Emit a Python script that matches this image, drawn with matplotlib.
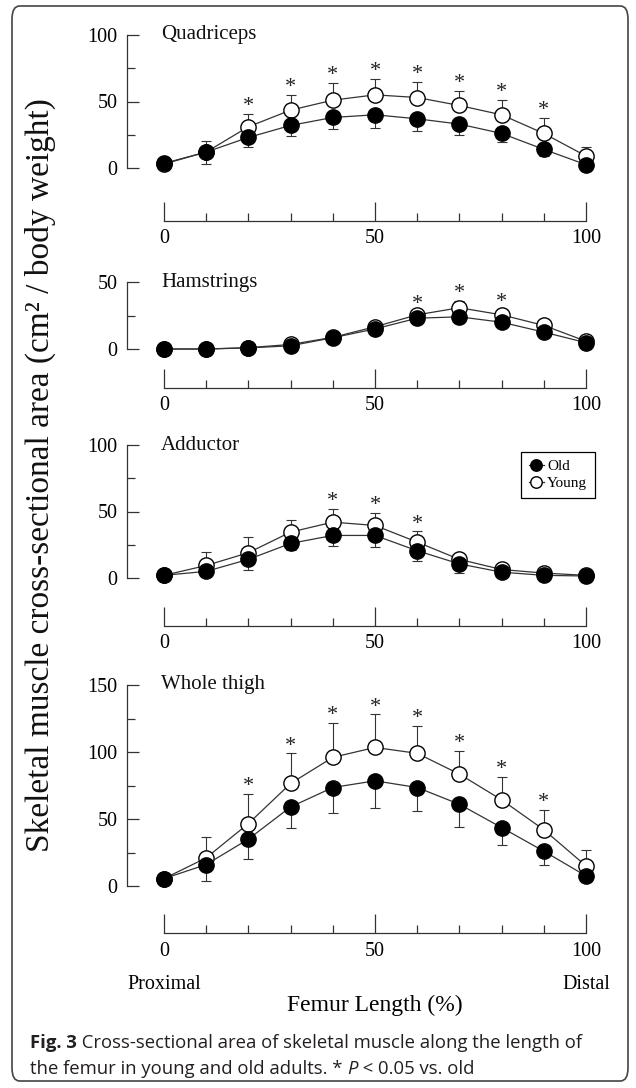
import numpy as np
import matplotlib
matplotlib.use("Agg")
from matplotlib import pyplot as plt
from matplotlib.patches import FancyBboxPatch

# Femur length positions (%)
femur_pos = [0, 10, 20, 30, 40, 50, 60, 70, 80, 90, 100]

# Quadriceps
quad_old = [3.5, 12, 23, 32, 38, 40, 37, 33, 26, 14, 2.5]
quad_old_sd = [1, 9, 7.5, 8, 9, 10, 9, 8.5, 6.5, 5, 1]
quad_young = [3, 12, 31, 43.5, 51, 55, 53, 47, 40, 26, 9]
quad_young_sd = [1, 8, 9.5, 11.5, 13, 12, 12, 11, 11, 11.5, 7]
quad_sig = [20, 30, 40, 50, 60, 70, 80, 90]

# Hamstrings
ham_old = [0, 0, 0.8, 2.4, 8.4, 15, 23, 24, 20, 12.6, 4.7]
ham_old_sd = [0.5, 0.5, 0.5, 1, 1.5, 2, 3, 3, 3, 2.5, 1.5]
ham_young = [0, 0, 1, 3.4, 8.7, 16.6, 25.5, 30.8, 25.5, 17.6, 5.8]
ham_young_sd = [0.5, 0.5, 0.5, 1.5, 1.5, 2, 2.5, 5, 3.5, 2.5, 2]
ham_sig = [60, 70, 80]

# Adductor
add_old = [2, 5, 14, 26, 32, 32, 20.5, 10.6, 4.4, 2, 1.5]
add_old_sd = [1, 3, 8.3, 5, 8.3, 9, 8, 7, 2, 1, 0.5]
add_young = [2, 9.4, 19, 34.5, 42, 39.5, 27, 14, 6.4, 3.7, 2]
add_young_sd = [1, 10.4, 12, 9, 10, 9.5, 8, 4, 2, 1.5, 0.5]
add_sig = [40, 50, 60]

# Whole thigh
whole_old = [5.5, 16, 35, 59, 73.5, 78.5, 73.5, 61, 43.6, 26, 7.5]
whole_old_sd = [1, 12.3, 14.6, 15.4, 19, 20, 17.5, 16.6, 13, 10.6, 2]
whole_young = [5.5, 21, 46.6, 76.5, 96, 103.4, 99, 83.5, 64.3, 42, 15]
whole_young_sd = [1, 15.6, 22, 22.5, 26, 24.7, 20.6, 17.5, 17.4, 15, 12]
whole_sig = [20, 30, 40, 50, 60, 70, 80, 90]

SERIF = ["Liberation Serif", "DejaVu Serif"]
plt.rcParams["font.family"] = SERIF
AX_COLOR = "#333333"

W, H = 636, 1088
fig = plt.figure(figsize=(W / 100, H / 100), dpi=100)


def px_box(top, bottom):
    # axes rectangle from pixel rows of y max / y zero
    return [164 / W, 1 - bottom / H, 422 / W, (bottom - top) / H]


def draw_panel(box, old, old_sd, young, young_sd, ymax, name, sig, outward):
    ax = fig.add_axes(box)
    ax.patch.set_alpha(0)
    n = len(femur_pos)
    # error bars: young up, old down
    ax.errorbar(femur_pos, young, yerr=[[0] * n, young_sd], fmt="none",
                ecolor=AX_COLOR, elinewidth=0.8, capsize=3.5, capthick=0.8,
                zorder=1, clip_on=False)
    ax.errorbar(femur_pos, old, yerr=[old_sd, [0] * n], fmt="none",
                ecolor=AX_COLOR, elinewidth=0.8, capsize=3.5, capthick=0.8,
                zorder=1, clip_on=False)
    ax.plot(femur_pos, young, "-o", color=AX_COLOR, lw=0.9, ms=11,
            mfc="white", mec="black", mew=1.0, zorder=2, clip_on=False,
            label="Young")
    ax.plot(femur_pos, old, "-o", color=AX_COLOR, lw=0.9, ms=11,
            mfc="black", mec="black", mew=1.0, zorder=3, clip_on=False,
            label="Old")
    for xs in sig:
        i = femur_pos.index(xs)
        ax.annotate("*", (xs, young[i] + young_sd[i]), xytext=(0, 2),
                    textcoords="offset points", ha="center", va="baseline",
                    fontsize=16, color="#222222", annotation_clip=False)

    ax.set_xlim(0, 100)
    ax.set_ylim(0, ymax)
    for s in ["top", "right"]:
        ax.spines[s].set_visible(False)
    ax.spines["left"].set_position(("outward", 26.6))
    ax.spines["bottom"].set_position(("outward", outward))
    for s in ["left", "bottom"]:
        ax.spines[s].set_color(AX_COLOR)
        ax.spines[s].set_linewidth(0.9)

    ax.set_yticks(np.arange(0, ymax + 1, 50))
    ax.set_yticks(np.arange(25, ymax, 50), minor=True)
    ax.set_xticks([0, 50, 100])
    ax.set_xticks([10, 20, 30, 40, 60, 70, 80, 90], minor=True)
    ax.tick_params(axis="y", which="major", direction="in", length=8.6,
                   width=0.9, color=AX_COLOR, labelsize=14.5, pad=7)
    ax.tick_params(axis="y", which="minor", direction="in", length=5.5,
                   width=0.9, color=AX_COLOR)
    ax.tick_params(axis="x", which="major", direction="in", length=13.7,
                   width=0.9, color=AX_COLOR, labelsize=14.5, pad=6)
    ax.tick_params(axis="x", which="minor", direction="in", length=5.8,
                   width=0.9, color=AX_COLOR)

    ax.text(-0.7, ymax, name, ha="left", va="center", fontsize=15,
            color="#111111")
    return ax


ax1 = draw_panel(px_box(35, 168), quad_old, quad_old_sd, quad_young,
                 quad_young_sd, 100, "Quadriceps", quad_sig, 38)
ax2 = draw_panel(px_box(282, 349), ham_old, ham_old_sd, ham_young,
                 ham_young_sd, 50, "Hamstrings", ham_sig, 28)
ax3 = draw_panel(px_box(445, 578), add_old, add_old_sd, add_young,
                 add_young_sd, 100, "Adductor", add_sig, 34.5)
ax4 = draw_panel(px_box(685, 886), whole_old, whole_old_sd, whole_young,
                 whole_young_sd, 150, "Whole thigh", whole_sig, 34)

# legend (Old first)
handles, labels = ax3.get_legend_handles_labels()
leg = ax3.legend(handles[::-1], labels[::-1], loc="upper left",
                 bbox_to_anchor=(521 / W, 1 - 452 / H),
                 bbox_transform=fig.transFigure, borderaxespad=0,
                 fontsize=11, handlelength=1.0, handletextpad=0.2,
                 markerscale=0.75, fancybox=False, framealpha=1,
                 edgecolor="black", borderpad=0.5, labelspacing=0.2)
leg.get_frame().set_linewidth(0.9)

# axis labels
fig.text(40 / W, 1 - 475 / H,
         "Skeletal muscle cross-sectional area (cm² / body weight)",
         rotation=90, ha="center", va="center", fontsize=24,
         color="#111111")
ax4.annotate("Proximal", (0, 0), xytext=(0, -71), textcoords="offset points",
             ha="center", va="center", fontsize=14.5, annotation_clip=False)
ax4.annotate("Distal", (100, 0), xytext=(0, -71), textcoords="offset points",
             ha="center", va="center", fontsize=14.5, annotation_clip=False)
ax4.annotate("Femur Length (%)", (50, 0), xytext=(0, -86),
             textcoords="offset points", ha="center", va="center",
             fontsize=17, annotation_clip=False)

# caption, pieced together for bold / italic parts
CAP = ["Open Sans", "DejaVu Sans"]
cap_col = "#231f20"
cap_size = 13.3
r = fig.canvas.get_renderer()
y1 = 1 - 1048 / H
y2 = 1 - 1074 / H
t1 = fig.text(30 / W, y1, "Fig. 3", family=CAP, weight="bold",
              fontsize=cap_size, color=cap_col, va="baseline")
bb = t1.get_window_extent(r)
fig.text(bb.x1 / W, y1, " Cross-sectional area of skeletal muscle along the length of",
         family=CAP, fontsize=cap_size, color=cap_col, va="baseline")
t3 = fig.text(30 / W, y2, "the femur in young and old adults. * ",
              family=CAP, fontsize=cap_size, color=cap_col, va="baseline")
bb = t3.get_window_extent(r)
t4 = fig.text(bb.x1 / W, y2, "P", family=CAP, style="italic",
              fontsize=cap_size, color=cap_col, va="baseline")
bb = t4.get_window_extent(r)
fig.text(bb.x1 / W, y2, " < 0.05 vs. old", family=CAP,
         fontsize=cap_size, color=cap_col, va="baseline")

# rounded frame
frame = FancyBboxPatch((12 / W, 7 / H), 616 / W, 1075 / H,
                       boxstyle="round,pad=0,rounding_size=0.012",
                       transform=fig.transFigure, fill=False,
                       edgecolor="#444444", lw=1.2)
fig.patches.append(frame)

fig.savefig("out.png", dpi=100)
